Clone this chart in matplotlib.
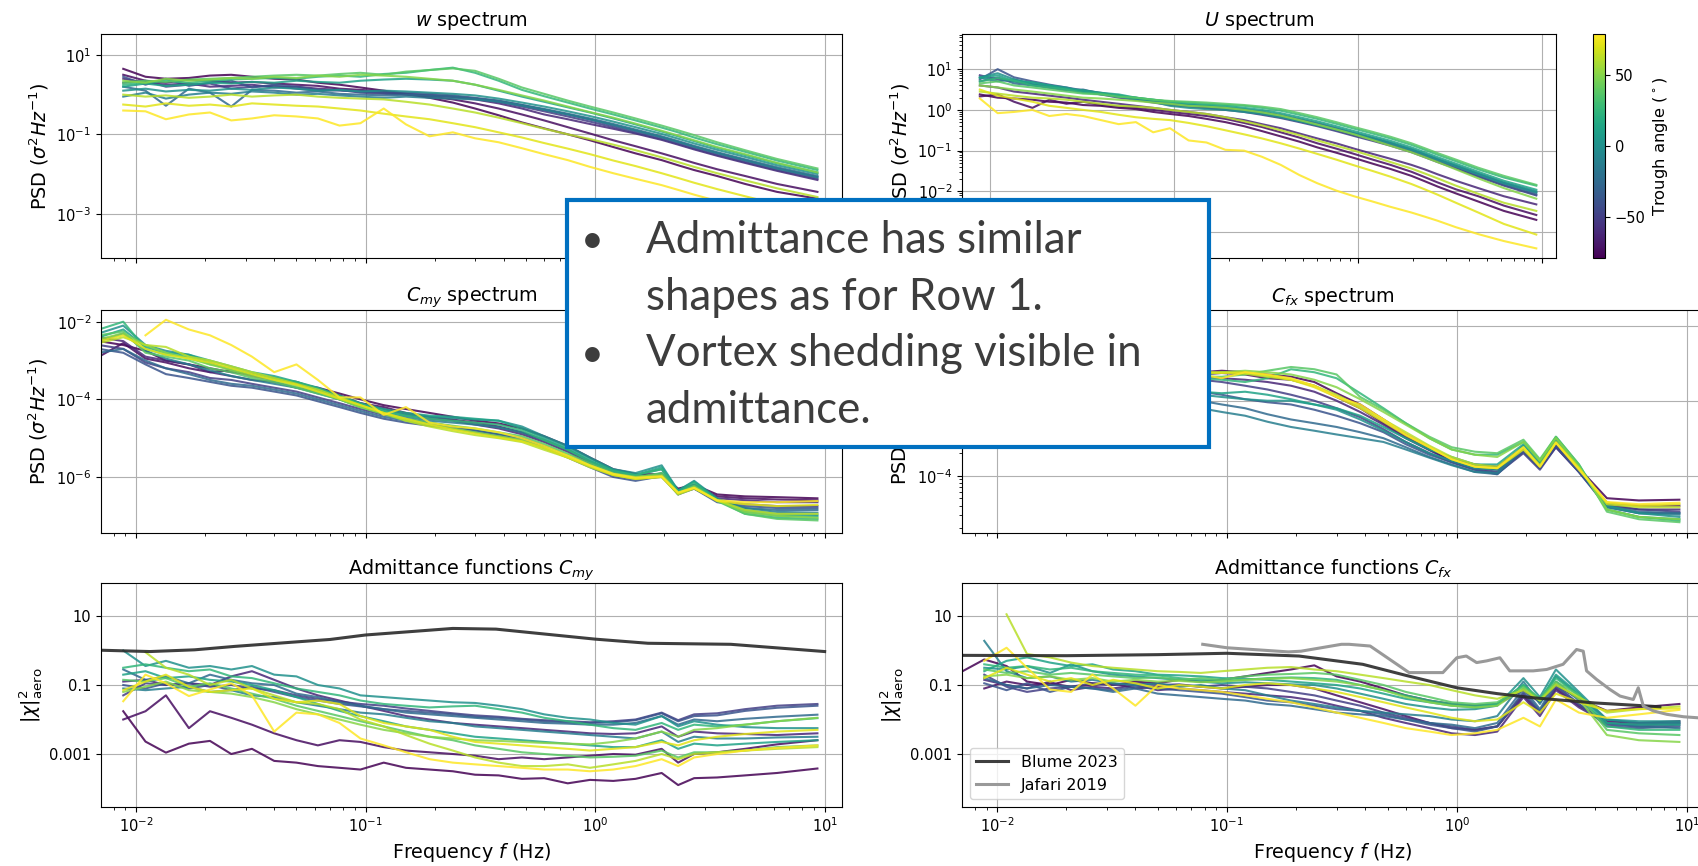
import numpy as np
import matplotlib
matplotlib.use("Agg")
import matplotlib.pyplot as plt
import matplotlib.colors as mcolors
from matplotlib.patches import Rectangle
from matplotlib.ticker import LogLocator, NullLocator, NullFormatter

nan = float("nan")

# ---------------------------------------------------------------- data
FREQ = [0.0069, 0.0088, 0.011, 0.0135, 0.017, 0.021, 0.026, 0.032, 0.04, 0.05,
        0.062, 0.077, 0.095, 0.12, 0.15, 0.19, 0.24, 0.3, 0.38, 0.48,
        0.6, 0.76, 0.95, 1.2, 1.5, 1.95, 2.3, 2.7, 3.4, 4.5,
        6.2, 9.3]

ANGLES = [-79, -74, -62, -50, -38, -25, -12, 0, 12, 25, 38, 50, 62, 72, 79]
CBAR_TICKS = [-50, 0, 50]

# log10 of PSD of w, one row per trough angle
W_PSD_LOG10 = [
    [nan, 0.65, 0.45, 0.40, 0.42, 0.48, 0.50, 0.45, 0.40, 0.38, 0.30, 0.25, 0.18, 0.10, 0.02, -0.08, -0.20, -0.35, -0.52, -0.70, -0.85, -1.00, -1.15, -1.32, -1.48, -1.65, -1.78, -1.90, -2.05, -2.25, -2.45, -2.62],
    [nan, 0.50, 0.35, 0.30, 0.38, 0.35, 0.30, 0.32, 0.28, 0.25, 0.22, 0.15, 0.12, 0.08, 0.00, -0.05, -0.12, -0.22, -0.35, -0.50, -0.65, -0.82, -0.98, -1.15, -1.30, -1.48, -1.60, -1.72, -1.88, -2.05, -2.25, -2.45],
    [nan, 0.40, 0.30, 0.25, 0.28, 0.20, 0.22, 0.25, 0.18, 0.20, 0.15, 0.12, 0.08, 0.05, 0.02, -0.02, -0.06, -0.12, -0.22, -0.35, -0.50, -0.62, -0.74, -0.86, -0.98, -1.14, -1.26, -1.38, -1.54, -1.72, -1.92, -2.15],
    [nan, 0.30, 0.35, 0.20, 0.25, 0.28, 0.15, 0.20, 0.22, 0.15, 0.10, 0.12, 0.05, 0.02, 0.00, -0.02, -0.05, -0.10, -0.18, -0.30, -0.42, -0.55, -0.68, -0.82, -0.96, -1.12, -1.24, -1.36, -1.52, -1.70, -1.90, -2.12],
    [nan, 0.45, 0.25, 0.40, 0.22, 0.30, 0.35, 0.18, 0.25, 0.20, 0.12, 0.10, 0.08, 0.05, 0.05, 0.02, -0.02, -0.08, -0.15, -0.26, -0.38, -0.50, -0.63, -0.78, -0.92, -1.08, -1.20, -1.32, -1.48, -1.66, -1.86, -2.08],
    [nan, 0.20, 0.10, -0.28, 0.15, 0.05, -0.30, 0.12, 0.10, 0.05, 0.08, 0.02, 0.00, -0.02, 0.00, -0.03, -0.05, -0.10, -0.16, -0.26, -0.36, -0.48, -0.60, -0.74, -0.88, -1.05, -1.17, -1.29, -1.45, -1.63, -1.83, -2.05],
    [nan, -0.05, 0.05, -0.10, 0.00, 0.05, 0.02, 0.08, 0.05, 0.00, 0.02, -0.02, -0.05, -0.08, -0.05, -0.08, -0.10, -0.12, -0.18, -0.28, -0.38, -0.50, -0.62, -0.76, -0.90, -1.07, -1.19, -1.31, -1.47, -1.65, -1.86, -2.08],
    [nan, 0.10, 0.15, 0.08, 0.12, 0.10, 0.15, 0.12, 0.18, 0.15, 0.10, 0.12, 0.08, 0.10, 0.08, 0.05, 0.02, -0.02, -0.10, -0.20, -0.30, -0.42, -0.54, -0.68, -0.82, -0.99, -1.11, -1.23, -1.39, -1.57, -1.78, -2.00],
    [nan, 0.20, 0.28, 0.22, 0.25, 0.30, 0.28, 0.32, 0.30, 0.35, 0.32, 0.30, 0.35, 0.38, 0.40, 0.38, 0.35, 0.25, 0.10, -0.05, -0.18, -0.32, -0.45, -0.60, -0.75, -0.93, -1.05, -1.17, -1.34, -1.52, -1.73, -1.96],
    [nan, 0.25, 0.30, 0.35, 0.30, 0.35, 0.38, 0.40, 0.42, 0.40, 0.45, 0.48, 0.45, 0.52, 0.55, 0.62, 0.68, 0.55, 0.35, 0.12, -0.04, -0.20, -0.35, -0.50, -0.65, -0.83, -0.95, -1.08, -1.25, -1.44, -1.66, -1.90],
    [nan, 0.30, 0.35, 0.32, 0.38, 0.40, 0.42, 0.45, 0.48, 0.50, 0.48, 0.52, 0.55, 0.50, 0.58, 0.62, 0.66, 0.60, 0.40, 0.18, 0.02, -0.15, -0.30, -0.45, -0.60, -0.78, -0.90, -1.02, -1.20, -1.40, -1.62, -1.86],
    [nan, 0.35, 0.30, 0.40, 0.35, 0.38, 0.42, 0.40, 0.45, 0.42, 0.48, 0.45, 0.50, 0.48, 0.45, 0.40, 0.35, 0.25, 0.12, -0.02, -0.15, -0.30, -0.44, -0.58, -0.73, -0.91, -1.03, -1.15, -1.32, -1.50, -1.72, -1.96],
    [nan, 0.00, -0.05, -0.02, -0.08, -0.05, 0.00, -0.05, -0.02, 0.00, -0.05, -0.08, -0.10, -0.12, -0.18, -0.25, -0.35, -0.45, -0.58, -0.72, -0.86, -1.00, -1.12, -1.26, -1.40, -1.58, -1.70, -1.82, -1.98, -2.16, -2.36, -2.58],
    [nan, -0.25, -0.30, -0.22, -0.28, -0.25, -0.30, -0.22, -0.25, -0.28, -0.30, -0.35, -0.40, -0.48, -0.55, -0.62, -0.72, -0.82, -0.95, -1.08, -1.22, -1.36, -1.50, -1.66, -1.80, -1.98, -2.10, -2.22, -2.38, -2.56, -2.76, -2.98],
    [nan, -0.40, -0.42, -0.62, -0.50, -0.45, -0.65, -0.60, -0.52, -0.55, -0.60, -0.78, -0.72, -0.35, -0.75, -1.05, -0.95, -1.10, -1.20, -1.35, -1.50, -1.65, -1.82, -1.98, -2.12, -2.28, -2.40, -2.52, -2.68, -2.86, -3.05, -3.25],
]

# log10 of PSD of U
U_PSD_LOG10 = [
    [nan, 0.38, 0.30, 0.28, 0.25, 0.20, 0.18, 0.12, 0.10, 0.05, 0.02, -0.05, -0.10, -0.15, -0.22, -0.30, -0.40, -0.52, -0.65, -0.78, -0.92, -1.05, -1.18, -1.32, -1.45, -1.62, -1.75, -1.88, -2.05, -2.25, -2.48, -2.70],
    [nan, 0.33, 0.38, 0.20, 0.05, 0.25, 0.15, 0.20, 0.12, 0.08, 0.05, 0.00, -0.05, -0.10, -0.15, -0.22, -0.32, -0.42, -0.55, -0.68, -0.82, -0.95, -1.08, -1.22, -1.35, -1.52, -1.65, -1.78, -1.95, -2.12, -2.35, -2.58],
    [nan, 0.60, 0.55, 0.45, 0.40, 0.35, 0.30, 0.25, 0.20, 0.15, 0.10, 0.05, 0.00, -0.05, -0.10, -0.18, -0.25, -0.35, -0.45, -0.58, -0.70, -0.82, -0.95, -1.08, -1.20, -1.35, -1.46, -1.58, -1.74, -1.92, -2.12, -2.32],
    [nan, 0.85, 0.75, 0.70, 0.62, 0.55, 0.50, 0.45, 0.38, 0.30, 0.25, 0.18, 0.12, 0.08, 0.05, 0.00, -0.05, -0.12, -0.20, -0.30, -0.40, -0.52, -0.64, -0.76, -0.88, -1.04, -1.16, -1.28, -1.44, -1.64, -1.86, -2.10],
    [nan, 0.75, 1.00, 0.80, 0.70, 0.62, 0.55, 0.48, 0.42, 0.35, 0.28, 0.20, 0.15, 0.10, 0.05, 0.02, -0.03, -0.10, -0.18, -0.28, -0.38, -0.50, -0.62, -0.74, -0.86, -1.02, -1.14, -1.26, -1.42, -1.62, -1.84, -2.08],
    [nan, 0.70, 0.80, 0.65, 0.60, 0.55, 0.48, 0.50, 0.40, 0.32, 0.30, 0.22, 0.15, 0.12, 0.08, 0.05, 0.00, -0.06, -0.14, -0.24, -0.34, -0.46, -0.58, -0.70, -0.82, -0.98, -1.10, -1.22, -1.38, -1.58, -1.80, -2.04],
    [nan, 0.80, 0.70, 0.75, 0.62, 0.58, 0.50, 0.45, 0.38, 0.35, 0.28, 0.22, 0.18, 0.12, 0.10, 0.06, 0.02, -0.04, -0.12, -0.22, -0.32, -0.44, -0.56, -0.68, -0.80, -0.96, -1.08, -1.20, -1.36, -1.56, -1.78, -2.00],
    [nan, 0.80, 0.90, 0.75, 0.65, 0.60, 0.55, 0.45, 0.40, 0.35, 0.25, 0.20, 0.10, 0.05, 0.02, 0.00, -0.05, -0.10, -0.18, -0.28, -0.38, -0.48, -0.58, -0.70, -0.82, -0.98, -1.10, -1.22, -1.38, -1.58, -1.80, -2.02],
    [nan, 0.78, 0.85, 0.70, 0.68, 0.60, 0.52, 0.48, 0.42, 0.38, 0.30, 0.25, 0.20, 0.15, 0.12, 0.10, 0.05, 0.00, -0.08, -0.18, -0.28, -0.40, -0.52, -0.64, -0.76, -0.92, -1.04, -1.16, -1.32, -1.52, -1.74, -1.96],
    [nan, 0.70, 0.78, 0.72, 0.60, 0.55, 0.50, 0.42, 0.40, 0.35, 0.30, 0.25, 0.20, 0.18, 0.15, 0.12, 0.10, 0.05, -0.02, -0.12, -0.22, -0.34, -0.46, -0.58, -0.70, -0.86, -0.98, -1.10, -1.26, -1.46, -1.66, -1.86],
    [nan, 0.65, 0.70, 0.60, 0.55, 0.50, 0.45, 0.40, 0.38, 0.32, 0.30, 0.25, 0.22, 0.20, 0.18, 0.15, 0.12, 0.08, 0.02, -0.08, -0.18, -0.30, -0.42, -0.54, -0.66, -0.82, -0.94, -1.06, -1.22, -1.42, -1.62, -1.84],
    [nan, 0.60, 0.55, 0.50, 0.45, 0.40, 0.35, 0.30, 0.28, 0.25, 0.22, 0.18, 0.15, 0.10, 0.08, 0.05, 0.00, -0.06, -0.14, -0.25, -0.36, -0.48, -0.60, -0.74, -0.88, -1.04, -1.16, -1.28, -1.46, -1.68, -1.92, -2.18],
    [nan, 0.45, 0.40, 0.35, 0.30, 0.28, 0.25, 0.20, 0.15, 0.10, 0.08, 0.05, 0.00, -0.05, -0.10, -0.18, -0.28, -0.38, -0.50, -0.62, -0.75, -0.88, -1.00, -1.14, -1.28, -1.44, -1.56, -1.68, -1.86, -2.06, -2.28, -2.48],
    [nan, 0.50, 0.35, 0.28, 0.20, 0.10, 0.05, 0.00, -0.05, -0.12, -0.18, -0.22, -0.25, -0.32, -0.40, -0.50, -0.60, -0.70, -0.82, -0.95, -1.08, -1.22, -1.36, -1.50, -1.64, -1.82, -1.95, -2.08, -2.28, -2.52, -2.80, -3.06],
    [nan, 0.28, -0.08, -0.05, 0.00, -0.15, -0.10, -0.15, -0.25, -0.35, -0.30, -0.55, -0.45, -0.75, -0.80, -0.98, -1.00, -1.15, -1.35, -1.60, -1.80, -1.98, -2.12, -2.25, -2.38, -2.52, -2.62, -2.72, -2.88, -3.05, -3.22, -3.40],
]

# log10 of PSD of C_my
CMY_PSD_LOG10 = [
    [-2.50, -2.60, -2.75, -3.00, -3.10, -3.20, -3.30, -3.35, -3.45, -3.60, -3.70, -3.85, -4.00, -4.15, -4.25, -4.35, -4.45, -4.55, -4.62, -4.75, -4.95, -5.20, -5.50, -5.80, -5.92, -5.95, -6.30, -6.20, -6.45, -6.50, -6.52, -6.55],
    [-2.90, -2.55, -2.95, -3.05, -3.20, -3.30, -3.25, -3.40, -3.50, -3.55, -3.75, -3.90, -4.10, -4.20, -4.35, -4.45, -4.52, -4.60, -4.70, -4.85, -5.05, -5.30, -5.60, -5.85, -5.95, -5.92, -6.35, -6.25, -6.50, -6.55, -6.58, -6.60],
    [-2.40, -2.50, -2.90, -3.00, -3.10, -3.30, -3.40, -3.50, -3.55, -3.70, -3.80, -4.00, -4.10, -4.25, -4.40, -4.50, -4.55, -4.65, -4.75, -4.90, -5.10, -5.35, -5.65, -5.90, -6.00, -5.95, -6.38, -6.25, -6.55, -6.60, -6.65, -6.65],
    [-2.60, -2.70, -3.05, -3.20, -3.30, -3.45, -3.50, -3.60, -3.70, -3.80, -3.95, -4.10, -4.25, -4.40, -4.50, -4.60, -4.70, -4.80, -4.90, -5.00, -5.20, -5.45, -5.70, -5.95, -6.05, -6.00, -6.42, -6.30, -6.60, -6.70, -6.75, -6.75],
    [-2.70, -2.80, -3.10, -3.35, -3.45, -3.55, -3.65, -3.70, -3.80, -3.90, -4.05, -4.20, -4.35, -4.50, -4.60, -4.68, -4.75, -4.85, -4.95, -5.05, -5.25, -5.50, -5.75, -6.00, -6.10, -5.98, -6.45, -6.30, -6.65, -6.75, -6.80, -6.80],
    [-2.80, -2.70, -3.00, -3.20, -3.35, -3.50, -3.60, -3.65, -3.75, -3.85, -4.00, -4.15, -4.30, -4.45, -4.55, -4.65, -4.72, -4.80, -4.90, -5.00, -5.20, -5.45, -5.70, -5.95, -6.05, -5.90, -6.45, -6.25, -6.60, -6.80, -6.85, -6.85],
    [-2.50, -2.30, -2.75, -2.95, -3.10, -3.25, -3.40, -3.50, -3.60, -3.70, -3.85, -4.00, -4.20, -4.35, -4.45, -4.55, -4.60, -4.65, -4.72, -4.85, -5.05, -5.30, -5.60, -5.85, -5.95, -5.80, -6.40, -6.20, -6.60, -6.80, -6.90, -6.92],
    [-2.30, -2.10, -2.60, -2.75, -2.85, -3.05, -3.25, -3.35, -3.45, -3.60, -3.75, -3.95, -4.15, -4.30, -4.40, -4.45, -4.48, -4.52, -4.55, -4.70, -4.95, -5.20, -5.50, -5.80, -5.90, -5.70, -6.35, -6.10, -6.55, -6.85, -6.95, -6.98],
    [-2.40, -2.20, -2.65, -2.80, -2.85, -3.00, -3.15, -3.30, -3.40, -3.55, -3.70, -3.90, -4.10, -4.25, -4.35, -4.42, -4.45, -4.50, -4.55, -4.75, -5.00, -5.25, -5.55, -5.82, -5.95, -5.75, -6.35, -6.12, -6.58, -6.90, -7.00, -7.02],
    [-2.20, -2.00, -2.70, -2.85, -2.90, -3.10, -3.20, -3.35, -3.45, -3.55, -3.72, -3.92, -4.12, -4.30, -4.42, -4.50, -4.55, -4.60, -4.65, -4.80, -5.05, -5.30, -5.60, -5.85, -5.95, -5.80, -6.40, -6.15, -6.60, -6.95, -7.05, -7.08],
    [-2.35, -2.25, -2.80, -2.90, -3.00, -3.20, -3.30, -3.45, -3.55, -3.70, -3.85, -4.00, -4.20, -4.35, -4.50, -4.60, -4.68, -4.75, -4.85, -4.95, -5.15, -5.40, -5.65, -5.90, -6.00, -5.90, -6.42, -6.22, -6.62, -6.95, -7.08, -7.12],
    [-2.45, -2.30, -2.60, -2.80, -2.95, -3.10, -3.25, -3.40, -3.50, -3.65, -3.80, -4.00, -4.20, -4.38, -4.55, -4.65, -4.75, -4.85, -4.95, -5.05, -5.25, -5.45, -5.70, -5.92, -6.00, -5.95, -6.42, -6.25, -6.60, -6.90, -7.00, -7.05],
    [-2.55, -2.40, -2.60, -2.65, -2.90, -3.00, -3.15, -3.30, -3.45, -3.60, -3.75, -3.95, -4.15, -4.35, -4.55, -4.70, -4.82, -4.92, -5.00, -5.10, -5.30, -5.50, -5.75, -5.95, -6.05, -6.00, -6.45, -6.30, -6.60, -6.85, -6.95, -6.95],
    [-2.50, -2.35, -2.70, -2.85, -2.95, -3.05, -3.20, -3.35, -3.50, -3.62, -3.80, -3.98, -4.15, -4.35, -4.50, -4.65, -4.78, -4.88, -4.98, -5.08, -5.25, -5.50, -5.72, -5.95, -6.05, -6.00, -6.42, -6.28, -6.62, -6.70, -6.75, -6.72],
    [nan, nan, -2.35, -1.95, -2.20, -2.35, -2.60, -2.90, -3.30, -3.10, -3.50, -3.95, -3.95, -4.40, -4.20, -4.60, -4.70, -4.75, -4.85, -5.00, -5.20, -5.45, -5.70, -5.92, -6.02, -5.98, -6.40, -6.28, -6.60, -6.65, -6.65, -6.62],
]

# log10 of PSD of C_fx
CFX_PSD_LOG10 = [
    [-2.90, -2.85, -2.80, -2.75, -2.80, -2.72, -2.70, -2.75, -2.68, -2.70, -2.65, -2.62, -2.60, -2.62, -2.65, -2.68, -2.75, -2.90, -3.05, -3.25, -3.45, -3.62, -3.78, -3.85, -3.88, -3.62, -3.85, -3.58, -3.90, -4.30, -4.33, -4.32],
    [-3.00, -2.90, -2.95, -2.85, -2.80, -2.85, -2.75, -2.72, -2.70, -2.72, -2.68, -2.65, -2.63, -2.65, -2.70, -2.72, -2.80, -2.95, -3.10, -3.30, -3.48, -3.65, -3.80, -3.88, -3.92, -3.65, -3.88, -3.60, -3.93, -4.36, -4.40, -4.40],
    [-3.05, -2.95, -2.90, -2.90, -2.85, -2.80, -2.80, -2.78, -2.75, -2.72, -2.70, -2.68, -2.70, -2.72, -2.75, -2.80, -2.88, -3.00, -3.15, -3.32, -3.50, -3.66, -3.80, -3.90, -3.95, -3.68, -3.90, -3.62, -3.95, -4.38, -4.45, -4.45],
    [-3.10, -3.00, -2.95, -2.90, -2.92, -2.85, -2.82, -2.80, -2.78, -2.75, -2.75, -2.72, -2.75, -2.80, -2.85, -2.92, -3.00, -3.10, -3.22, -3.38, -3.55, -3.70, -3.82, -3.92, -3.97, -3.70, -3.92, -3.62, -3.95, -4.40, -4.45, -4.48],
    [-3.10, -3.05, -3.00, -2.95, -2.90, -2.92, -2.88, -2.85, -2.85, -2.82, -2.85, -2.88, -2.92, -2.98, -3.02, -3.05, -3.12, -3.20, -3.30, -3.42, -3.58, -3.72, -3.82, -3.92, -3.98, -3.68, -3.90, -3.60, -3.95, -4.42, -4.50, -4.50],
    [-3.15, -3.10, -3.05, -3.00, -2.95, -2.95, -2.92, -2.90, -2.90, -2.92, -2.95, -3.00, -3.05, -3.10, -3.18, -3.25, -3.30, -3.35, -3.42, -3.50, -3.62, -3.75, -3.85, -3.95, -3.98, -3.65, -3.88, -3.55, -3.92, -4.40, -4.48, -4.50],
    [-3.20, -3.15, -3.10, -3.05, -3.00, -3.02, -2.98, -2.95, -2.95, -3.00, -3.05, -3.10, -3.15, -3.20, -3.28, -3.35, -3.40, -3.45, -3.50, -3.55, -3.65, -3.76, -3.86, -3.95, -3.96, -3.62, -3.85, -3.52, -3.90, -4.42, -4.50, -4.52],
    [-3.00, -2.95, -2.92, -2.90, -2.88, -2.85, -2.85, -2.82, -2.85, -2.88, -2.90, -2.92, -2.95, -2.98, -3.00, -3.00, -3.05, -3.12, -3.25, -3.40, -3.55, -3.70, -3.80, -3.90, -3.92, -3.60, -3.85, -3.50, -3.88, -4.40, -4.50, -4.55],
    [-2.95, -2.90, -2.88, -2.85, -2.82, -2.80, -2.80, -2.78, -2.80, -2.82, -2.85, -2.88, -2.90, -2.88, -2.92, -2.98, -3.05, -3.10, -3.20, -3.35, -3.50, -3.65, -3.75, -3.85, -3.85, -3.58, -3.82, -3.50, -3.88, -4.45, -4.55, -4.58],
    [-2.85, -2.80, -2.78, -2.75, -2.72, -2.70, -2.70, -2.68, -2.70, -2.70, -2.72, -2.70, -2.72, -2.75, -2.70, -2.58, -2.62, -2.70, -2.90, -3.10, -3.30, -3.50, -3.65, -3.72, -3.72, -3.55, -3.80, -3.48, -3.85, -4.45, -4.55, -4.60],
    [-2.80, -2.78, -2.75, -2.72, -2.70, -2.70, -2.68, -2.66, -2.68, -2.68, -2.70, -2.68, -2.68, -2.65, -2.60, -2.55, -2.58, -2.65, -2.95, -3.12, -3.30, -3.48, -3.62, -3.68, -3.70, -3.52, -3.78, -3.48, -3.85, -4.48, -4.58, -4.62],
    [-2.82, -2.80, -2.76, -2.74, -2.72, -2.70, -2.70, -2.68, -2.68, -2.66, -2.66, -2.65, -2.62, -2.60, -2.62, -2.65, -2.72, -2.82, -2.98, -3.15, -3.32, -3.50, -3.65, -3.72, -3.75, -3.55, -3.80, -3.50, -3.88, -4.45, -4.55, -4.58],
    [-2.85, -2.80, -2.78, -2.75, -2.72, -2.70, -2.68, -2.70, -2.66, -2.65, -2.65, -2.62, -2.62, -2.64, -2.68, -2.72, -2.80, -2.92, -3.08, -3.25, -3.42, -3.60, -3.75, -3.85, -3.88, -3.62, -3.86, -3.55, -3.90, -4.38, -4.42, -4.42],
    [-2.88, -2.82, -2.80, -2.76, -2.74, -2.72, -2.70, -2.68, -2.68, -2.66, -2.64, -2.62, -2.63, -2.62, -2.66, -2.72, -2.82, -2.95, -3.10, -3.28, -3.46, -3.62, -3.78, -3.88, -3.90, -3.65, -3.88, -3.56, -3.90, -4.36, -4.40, -4.38],
    [-2.90, -2.85, -2.82, -2.78, -2.75, -2.72, -2.70, -2.70, -2.68, -2.66, -2.70, -2.65, -2.70, -2.62, -2.65, -2.70, -2.80, -2.95, -3.05, -3.25, -3.45, -3.62, -3.78, -3.88, -3.90, -3.62, -3.88, -3.56, -3.92, -4.35, -4.38, -4.36],
]

# log10 of aerodynamic admittance |chi|^2 for C_my
CMY_ADM_LOG10 = [
    [nan, -1.76, -2.64, -2.96, -2.70, -2.62, -3.00, -2.85, -3.20, -3.25, -3.35, -3.40, -3.45, -3.25, -3.40, -3.45, -3.50, -3.60, -3.62, -3.72, -3.70, -3.85, -3.75, -3.78, -3.72, -3.55, -3.90, -3.70, -3.68, -3.62, -3.55, -3.42],
    [nan, -2.00, -1.76, -1.30, -2.25, -1.76, -1.95, -2.15, -2.40, -2.60, -2.75, -2.60, -2.65, -2.80, -2.90, -2.95, -3.00, -3.05, -3.15, -3.10, -3.15, -3.10, -3.05, -3.00, -3.02, -2.85, -3.25, -3.00, -2.95, -2.85, -2.72, -2.60],
    [nan, -0.90, -0.85, -1.00, -0.95, -1.00, -0.75, -0.60, -0.85, -1.10, -1.30, -1.45, -1.60, -1.75, -1.90, -2.00, -2.10, -2.15, -2.20, -2.25, -2.30, -2.35, -2.40, -2.42, -2.40, -2.20, -2.50, -2.35, -2.40, -2.42, -2.45, -2.40],
    [nan, -1.30, -0.95, -1.00, -0.95, -1.05, -1.00, -1.10, -1.15, -1.30, -1.40, -1.48, -1.55, -1.60, -1.68, -1.75, -1.82, -1.88, -1.92, -1.98, -2.02, -2.05, -2.08, -2.05, -2.00, -1.80, -2.02, -1.85, -1.82, -1.70, -1.60, -1.55],
    [nan, -1.00, -1.10, -0.95, -1.10, -1.00, -1.15, -1.05, -1.20, -1.35, -1.45, -1.55, -1.62, -1.70, -1.75, -1.80, -1.85, -1.92, -1.95, -2.00, -2.05, -2.08, -2.10, -2.08, -2.02, -1.82, -2.05, -1.90, -1.88, -1.75, -1.66, -1.60],
    [nan, -0.55, -0.85, -0.75, -0.95, -0.70, -0.85, -0.95, -1.00, -1.25, -1.35, -1.50, -1.60, -1.70, -1.80, -1.85, -1.90, -1.95, -2.00, -2.05, -2.10, -2.12, -2.15, -2.15, -2.10, -1.90, -2.15, -2.00, -2.05, -1.98, -1.92, -1.86],
    [nan, -1.10, -1.15, -1.10, -1.05, -1.20, -1.15, -1.30, -1.35, -1.50, -1.60, -1.70, -1.80, -1.85, -1.95, -2.05, -2.10, -2.20, -2.25, -2.30, -2.35, -2.40, -2.45, -2.50, -2.55, -2.35, -2.65, -2.50, -2.55, -2.55, -2.52, -2.50],
    [nan, 0.00, -0.45, -0.30, -0.50, -0.45, -0.55, -0.45, -0.70, -0.75, -1.00, -1.10, -1.30, -1.35, -1.40, -1.45, -1.50, -1.52, -1.60, -1.70, -1.85, -1.95, -2.00, -2.10, -2.15, -1.90, -2.20, -2.05, -2.15, -2.22, -2.25, -2.25],
    [nan, -0.70, -0.60, -0.80, -0.75, -0.85, -0.90, -1.00, -1.15, -1.35, -1.55, -1.75, -1.90, -2.05, -2.20, -2.30, -2.40, -2.50, -2.55, -2.60, -2.65, -2.70, -2.75, -2.80, -2.80, -2.60, -2.85, -2.70, -2.75, -2.70, -2.65, -2.60],
    [nan, -0.50, -0.40, -0.50, -0.60, -0.55, -0.75, -0.80, -0.95, -1.10, -1.20, -1.30, -1.45, -1.55, -1.60, -1.65, -1.62, -1.60, -1.70, -1.80, -1.95, -2.05, -2.15, -2.25, -2.30, -2.10, -2.30, -2.15, -2.20, -2.15, -2.05, -1.96],
    [nan, -0.85, -0.90, -0.80, -1.05, -0.95, -1.10, -1.25, -1.40, -1.60, -1.75, -1.90, -2.05, -2.20, -2.35, -2.50, -2.60, -2.75, -2.85, -2.95, -3.00, -3.05, -3.10, -3.08, -3.05, -2.90, -3.10, -2.95, -2.95, -2.90, -2.80, -2.75],
    [nan, -1.20, -1.05, -0.90, -1.15, -1.20, -1.25, -1.35, -1.50, -1.70, -1.85, -2.00, -2.15, -2.30, -2.40, -2.50, -2.55, -2.60, -2.62, -2.65, -2.68, -2.70, -2.72, -2.65, -2.55, -2.35, -2.50, -2.30, -2.25, -2.15, -2.05, -1.95],
    [nan, nan, -0.05, -0.50, -0.70, -1.00, -0.85, -1.10, -1.30, -1.50, -1.55, -1.70, -2.00, -2.20, -2.45, -2.70, -2.90, -3.10, -3.25, -3.35, -3.35, -3.30, -3.40, -3.30, -3.20, -3.00, -3.15, -3.00, -2.95, -2.90, -2.85, -2.80],
    [nan, -1.15, -0.90, -0.70, -1.05, -1.20, -1.15, -1.10, -1.40, -1.50, -1.45, -1.55, -1.90, -2.10, -2.20, -2.30, -2.50, -2.65, -2.70, -2.75, -2.80, -2.85, -2.90, -2.85, -2.80, -2.65, -2.75, -2.60, -2.50, -2.42, -2.35, -2.30],
    [nan, -1.47, -0.70, -0.95, -1.32, -1.13, -0.95, -1.30, -2.35, -1.80, -1.85, -2.10, -2.55, -2.75, -2.95, -3.15, -3.25, -3.30, -3.35, -3.40, -3.45, -3.45, -3.50, -3.45, -3.35, -3.15, -3.35, -3.10, -3.00, -2.90, -2.82, -2.75],
]

# log10 of aerodynamic admittance |chi|^2 for C_fx
CFX_ADM_LOG10 = [
    [-0.64, -0.26, -0.45, -0.90, -1.00, -0.85, -0.95, -1.00, -0.90, -0.95, -0.85, -0.90, -0.85, -0.75, -0.65, -0.55, -0.43, -0.75, -0.90, -1.10, -1.30, -1.45, -1.55, -1.60, -1.55, -1.15, -1.50, -1.00, -1.40, -1.75, -1.65, -1.55],
    [nan, -1.10, -0.90, -1.00, -0.95, -1.05, -1.00, -0.95, -1.10, -1.05, -1.00, -1.05, -1.10, -1.05, -1.00, -1.00, -1.10, -1.30, -1.50, -1.70, -1.90, -2.10, -2.25, -2.30, -2.20, -1.30, -1.80, -1.10, -1.60, -2.05, -2.10, -2.05],
    [nan, -0.85, -1.00, -1.10, -0.90, -1.15, -1.05, -1.10, -1.00, -1.15, -1.10, -1.15, -1.20, -1.25, -1.30, -1.35, -1.45, -1.60, -1.75, -1.95, -2.10, -2.25, -2.40, -2.45, -2.35, -1.35, -1.90, -1.15, -1.65, -2.10, -2.15, -2.10],
    [nan, -0.70, -1.05, -1.20, -1.10, -1.05, -0.95, -1.00, -0.95, -1.00, -0.98, -1.05, -1.00, -1.05, -1.10, -1.20, -1.30, -1.45, -1.60, -1.80, -1.95, -2.10, -2.20, -2.30, -2.20, -1.25, -1.80, -1.05, -1.55, -2.15, -2.20, -2.15],
    [nan, -0.95, -1.15, -0.95, -1.20, -1.05, -1.10, -1.15, -1.05, -1.10, -1.15, -1.20, -1.25, -1.35, -1.45, -1.50, -1.60, -1.70, -1.75, -1.85, -2.00, -2.15, -2.25, -2.35, -2.20, -1.20, -1.75, -1.00, -1.55, -2.20, -2.25, -2.20],
    [nan, -0.80, -1.00, -1.10, -1.00, -1.05, -1.10, -1.20, -1.10, -1.25, -1.30, -1.35, -1.40, -1.45, -1.55, -1.60, -1.70, -1.80, -1.85, -1.90, -2.00, -2.10, -2.15, -2.25, -2.10, -1.10, -1.70, -0.90, -1.45, -2.10, -2.20, -2.25],
    [nan, 0.28, -0.60, -0.80, -0.75, -0.90, -0.85, -0.95, -1.00, -0.95, -1.05, -1.00, -1.10, -1.15, -1.30, -1.45, -1.55, -1.65, -1.75, -1.80, -1.85, -1.90, -2.00, -2.05, -1.90, -0.90, -1.55, -0.75, -1.30, -2.00, -2.10, -2.10],
    [nan, -0.50, -0.55, -0.45, -0.65, -0.40, -0.60, -0.70, -0.75, -0.80, -0.85, -0.90, -0.95, -0.92, -0.95, -0.98, -1.00, -1.10, -1.25, -1.40, -1.55, -1.65, -1.72, -1.70, -1.60, -0.80, -1.35, -0.55, -1.20, -2.00, -2.05, -2.05],
    [nan, -0.60, -0.30, -0.20, -0.35, -0.45, -0.40, -0.55, -0.60, -0.70, -0.72, -0.75, -0.80, -0.82, -0.85, -0.90, -0.95, -1.00, -1.10, -1.25, -1.40, -1.50, -1.60, -1.65, -1.55, -1.00, -1.45, -0.70, -1.25, -2.10, -2.15, -2.15],
    [nan, -0.40, -0.50, -0.45, -0.55, -0.50, -0.60, -0.65, -0.70, -0.72, -0.80, -0.85, -0.88, -0.85, -0.80, -0.78, -0.80, -0.85, -1.00, -1.15, -1.30, -1.45, -1.55, -1.60, -1.55, -1.00, -1.40, -0.80, -1.30, -2.20, -2.30, -2.30],
    [nan, -0.55, -0.65, -0.60, -0.70, -0.65, -0.70, -0.75, -0.80, -0.78, -0.85, -0.80, -0.85, -0.75, -0.70, -0.68, -0.65, -0.70, -0.85, -1.00, -1.20, -1.35, -1.50, -1.55, -1.50, -1.05, -1.40, -0.90, -1.30, -2.30, -2.40, -2.45],
    [nan, -0.75, -0.70, -0.80, -0.75, -0.85, -0.80, -0.90, -0.85, -0.90, -0.88, -0.92, -0.90, -0.85, -0.82, -0.80, -0.85, -0.90, -1.00, -1.15, -1.35, -1.50, -1.60, -1.65, -1.60, -1.10, -1.45, -0.95, -1.40, -2.45, -2.60, -2.65],
    [nan, nan, 1.05, -0.10, -0.20, -0.35, -0.45, -0.50, -0.55, -0.60, -0.62, -0.65, -0.60, -0.55, -0.50, -0.48, -0.55, -0.60, -0.70, -0.80, -0.90, -1.00, -1.15, -1.30, -1.40, -1.15, -1.45, -1.00, -1.35, -1.80, -1.70, -1.62],
    [nan, -0.80, -0.50, -0.70, -0.90, -0.80, -1.00, -0.85, -0.95, -1.10, -1.00, -1.05, -1.10, -1.00, -0.95, -1.00, -1.10, -1.20, -1.35, -1.50, -1.65, -1.80, -1.95, -2.05, -2.00, -1.50, -1.80, -1.25, -1.50, -1.75, -1.70, -1.68],
    [nan, -0.30, 0.08, -0.50, -1.13, -1.20, -0.70, -1.10, -1.60, -1.00, -1.10, -1.15, -1.20, -1.30, -1.40, -1.50, -1.65, -1.80, -1.95, -2.10, -2.25, -2.35, -2.45, -2.40, -2.30, -1.95, -2.20, -1.42, -1.80, -1.95, -1.85, -1.72],
]

# reference admittance curves (log10 of |chi|^2)
BLUME_CMY_FREQ = [0.0069, 0.0115, 0.018, 0.027, 0.05, 0.07, 0.1, 0.24, 0.37, 1.0, 1.7, 3.9, 10.0]
BLUME_CMY_LOG10 = [0.01, -0.03, 0.02, 0.12, 0.25, 0.32, 0.45, 0.64, 0.62, 0.33, 0.21, 0.18, -0.03]

BLUME_CFX_FREQ = [0.0069, 0.02, 0.05, 0.1, 0.206, 0.39, 0.6, 1.0, 1.5, 2.15, 4.0, 7.65]
BLUME_CFX_LOG10 = [-0.14, -0.15, -0.12, -0.08, -0.16, -0.40, -0.72, -1.08, -1.25, -1.37, -1.52, -1.63]

JAFARI_CFX_FREQ = [0.0785, 0.1, 0.185, 0.21, 0.315, 0.34, 0.42, 0.62, 0.87, 1.0, 1.1, 1.22,
                   1.35, 1.54, 1.7, 2.15, 2.46, 2.9, 3.32, 3.55, 3.67, 4.06, 4.64, 5.13,
                   5.86, 6.16, 6.48, 7.16, 8.2, 9.7, 11.2, 14.0]
JAFARI_CFX_LOG10 = [0.18, 0.08, -0.04, -0.02, 0.18, 0.18, 0.13, -0.64, -0.64, -0.21, -0.16, -0.35,
                    -0.30, -0.21, -0.59, -0.59, -0.55, -0.40, 0.03, -0.02, -0.59, -0.84, -1.13, -1.32,
                    -1.42, -1.08, -1.61, -1.75, -1.85, -1.92, -1.95, -1.98]

TITLES = [r"$w$ spectrum", r"$U$ spectrum", r"$C_{my}$ spectrum", r"$C_{fx}$ spectrum",
          r"Admittance functions $C_{my}$", r"Admittance functions $C_{fx}$"]
PSD_LABEL = r"PSD ($\sigma^2 Hz^{-1}$)"
ADM_LABEL = r"$|\chi|^2_{\mathrm{aero}}$"
X_LABEL = r"Frequency $f$ (Hz)"
CBAR_LABEL = r"Trough angle ($^\circ$)"
BOX_LINES = ["Admittance has similar", "shapes as for Row 1.",
             "Vortex shedding visible in", "admittance."]
BOX_BULLET_LINES = [0, 2]

# ---------------------------------------------------------------- figure
FW, FH = 1698.0, 866.0
fig = plt.figure(figsize=(FW / 100, FH / 100), dpi=100)


def rect(x0, y0, x1, y1):
    return [x0 / FW, 1 - y1 / FH, (x1 - x0) / FW, (y1 - y0) / FH]


cmap = plt.get_cmap("viridis")
norm = mcolors.Normalize(vmin=min(ANGLES), vmax=max(ANGLES))
freq = np.asarray(FREQ, float)

TICK_FS = 10.5
LABEL_FS = 13.8
TITLE_FS = 13.8


def family(ax, table):
    for ang, row in zip(ANGLES, table):
        ax.plot(freq, 10.0 ** np.asarray(row, float), color=cmap(norm(ang)),
                lw=1.5, alpha=0.85)


def style(ax, ylim, yticks, ylabels=None, minor_y=False, show_x=False,
          title="", ylabel=""):
    ax.set_xscale("log")
    ax.set_yscale("log")
    ax.set_xlim(0.00704, 11.9)
    ax.set_ylim(*ylim)
    ax.set_xticks([1e-2, 1e-1, 1e0, 1e1])
    ax.xaxis.set_minor_locator(LogLocator(base=10, subs=np.arange(2, 10), numticks=60))
    ax.xaxis.set_minor_formatter(NullFormatter())
    if ylabels is None:
        ax.set_yticks(yticks)
    else:
        ax.set_yticks(yticks, labels=ylabels)
    if minor_y:
        ax.yaxis.set_minor_locator(LogLocator(base=10, subs=np.arange(2, 10), numticks=60))
        ax.yaxis.set_minor_formatter(NullFormatter())
    else:
        ax.yaxis.set_minor_locator(NullLocator())
    ax.grid(True, which="major", color="#b0b0b0", lw=0.8)
    ax.tick_params(labelsize=TICK_FS)
    if not show_x:
        ax.tick_params(axis="x", labelbottom=False)
    else:
        ax.set_xlabel(X_LABEL, fontsize=LABEL_FS)
    ax.set_title(title, fontsize=TITLE_FS)
    ax.set_ylabel(ylabel, fontsize=LABEL_FS)


# row 1
ax_w = fig.add_axes(rect(101, 34.3, 842, 258))
family(ax_w, W_PSD_LOG10)
style(ax_w, (10 ** -4.116, 10 ** 1.52), [1e1, 1e-1, 1e-3],
      title=TITLES[0], ylabel=PSD_LABEL)

ax_u = fig.add_axes(rect(962, 34.3, 1556, 258))
family(ax_u, U_PSD_LOG10)
style(ax_u, (10 ** -3.636, 10 ** 1.856), [1e1, 1e0, 1e-1, 1e-2, 1e-3], minor_y=True,
      title=TITLES[1], ylabel=PSD_LABEL)

cax = fig.add_axes(rect(1593, 34.3, 1605, 258))
sm = matplotlib.cm.ScalarMappable(norm=norm, cmap=cmap)
cb = fig.colorbar(sm, cax=cax, ticks=CBAR_TICKS)
cb.set_label(CBAR_LABEL, fontsize=11.8)
cb.ax.tick_params(labelsize=TICK_FS)

# row 2
ax_cmy = fig.add_axes(rect(101, 310, 842, 532.7))
family(ax_cmy, CMY_PSD_LOG10)
style(ax_cmy, (10 ** -7.436, 10 ** -1.698), [1e-2, 1e-4, 1e-6],
      title=TITLES[2], ylabel=PSD_LABEL)

ax_cfx = fig.add_axes(rect(962, 310, 1704, 532.7))
family(ax_cfx, CFX_PSD_LOG10)
style(ax_cfx, (10 ** -4.76, 10 ** -1.79), [1e-2, 1e-3, 1e-4], minor_y=True,
      title=TITLES[3], ylabel=PSD_LABEL)

# row 3
ax_amy = fig.add_axes(rect(101, 583, 842, 807))
family(ax_amy, CMY_ADM_LOG10)
ax_amy.plot(BLUME_CMY_FREQ, 10.0 ** np.asarray(BLUME_CMY_LOG10), color="#2a2a2a",
            lw=2.2, alpha=0.9)
style(ax_amy, (10 ** -4.536, 10 ** 1.957), [10, 0.1, 0.001], ["10", "0.1", "0.001"],
      show_x=True, title=TITLES[4], ylabel=ADM_LABEL)

ax_afx = fig.add_axes(rect(962, 583, 1704, 807))
family(ax_afx, CFX_ADM_LOG10)
lb, = ax_afx.plot(BLUME_CFX_FREQ, 10.0 ** np.asarray(BLUME_CFX_LOG10), color="#2a2a2a",
                  lw=2.2, alpha=0.9, label="Blume 2023")
lj, = ax_afx.plot(JAFARI_CFX_FREQ, 10.0 ** np.asarray(JAFARI_CFX_LOG10), color="#999999",
                  lw=2.2, label="Jafari 2019")
style(ax_afx, (10 ** -4.536, 10 ** 1.957), [10, 0.1, 0.001], ["10", "0.1", "0.001"],
      show_x=True, title=TITLES[5], ylabel=ADM_LABEL)
ax_afx.legend(handles=[lb, lj], loc="lower left", fontsize=11.5)

# ---------------------------------------------------------------- overlay text box
box = Rectangle((567 / FW, 1 - 447 / FH), (1209 - 567) / FW, (447 - 200) / FH,
                transform=fig.transFigure, facecolor="white", edgecolor="#0070C0",
                lw=3.0, zorder=10)
fig.add_artist(box)

BOX_FONT = ["Lato", "DejaVu Sans"]
TXT_COL = "#3d3d3d"
baselines = [253, 310, 366.5, 423]
first = fig.text(646 / FW, 1 - baselines[0] / FH, BOX_LINES[0], fontsize=28,
                 family=BOX_FONT, color=TXT_COL, ha="left", va="baseline", zorder=11)
renderer = fig.canvas.get_renderer()
wpx = first.get_window_extent(renderer=renderer).width
fs = 28 * 436.0 / wpx
first.set_fontsize(fs)
for i, line in enumerate(BOX_LINES):
    if i > 0:
        fig.text(646 / FW, 1 - baselines[i] / FH, line, fontsize=fs, family=BOX_FONT,
                 color=TXT_COL, ha="left", va="baseline", zorder=11)
    if i in BOX_BULLET_LINES:
        fig.text(592 / FW, 1 - baselines[i] / FH, "\u2022", fontsize=fs * 0.9,
                 family=BOX_FONT, color=TXT_COL, ha="center", va="baseline", zorder=11)

fig.savefig("out.png", dpi=100)
